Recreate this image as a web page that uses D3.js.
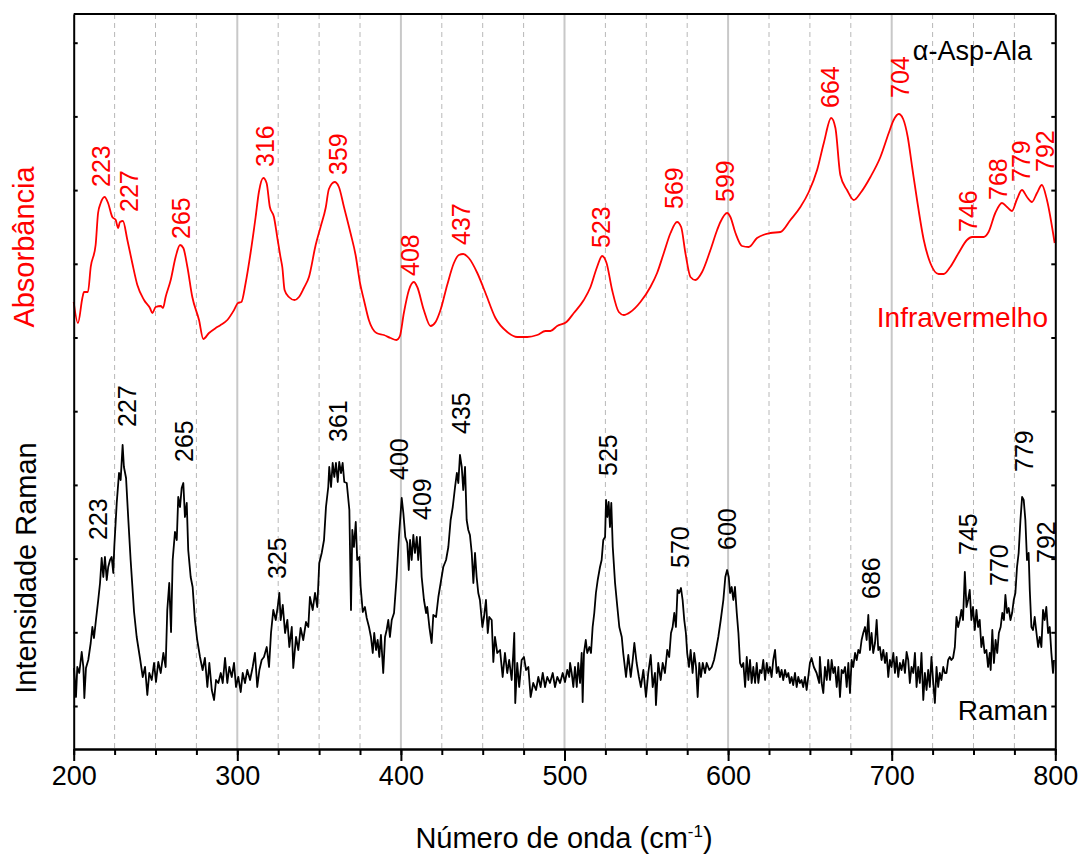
<!DOCTYPE html>
<html>
<head>
<meta charset="utf-8">
<script src="https://cdn.jsdelivr.net/npm/d3@7"></script>
<style>
  body { margin: 0; background: #fff; }
  text { font-family: "Liberation Sans", Arial, sans-serif; }
</style>
</head>
<body>
<div id="graph"></div>
<script>
// infrared spectrum (absorbance, arbitrary units, shifted up)
const irWn = [200,202.6,205.3,206.3,208.7,210.4,213.4,214.9,216.5,218.9,221,223.6,225.7,227.1,228.3,230.1,232.8,235.8,238.9,243,246.6,248.1,250.1,253.2,254.6,256.2,259.3,262.3,265,267,269.5,272.5,276.6,279.2,282.7,286.8,289.8,293.9,298,300.4,302.5,305.1,308.1,311.2,313.2,315.9,317.9,319.9,322.4,324.4,326.5,327.5,328.9,331.5,335,337.7,340.7,343.8,347.9,350.9,354,356,359.5,362.1,365.2,369.2,372.3,375,377.4,380.4,385.1,389.6,393.7,397.3,399.4,401.8,404.9,407.9,410,414,418.1,421.2,424.2,428.3,432.4,435.4,438.1,441.5,446.7,451.7,457.8,465,471.1,477.2,483.3,488.4,491.4,495.5,501.2,505.7,511.8,515.9,519.9,523,525.7,529.1,533.2,536.2,540.3,546.4,552.5,556.6,560.7,564.8,568.8,571.3,573.9,577,580,584.1,589.2,593.3,595.3,599.4,601.4,604.5,608.5,612.6,617.7,625.9,632,638.1,644.2,649.3,654.4,658.5,663,665.6,668.6,672.7,676.8,680.9,687,693.1,698.2,701.2,704.3,707,709.8,712.5,715.5,719.6,723.6,728.7,731.8,735.8,740.9,746,749.1,756.2,759.2,763.3,767.4,770.5,773.5,776.6,779.6,782.7,785.7,788.8,791.8,794.9,799.6];
const irAbs = [447,426,451,457,457,482,504,536,546,552,546,532,529,521,527,528,509,486,464,449,441,436,442,443,441,452,469,492,504,501,482,452,429,410,416,421,424,429,439,446,447,466,496,532,557,571,566,542,532,512,491,482,459,452,449,452,461,472,504,522,541,560,567,562,542,516,494,466,449,429,416,414,411,409,413,436,459,467,462,439,423,427,439,464,486,494,495,491,476,456,431,417,412,412,414,418,418,423,427,436,449,462,482,493,486,459,437,434,437,447,462,476,496,516,527,522,496,472,469,477,499,519,527,536,532,516,503,502,511,516,517,529,542,557,579,606,631,621,574,559,549,556,572,592,616,629,635,630,612,582,549,509,486,475,475,482,496,509,512,512,517,536,546,542,538,550,559,552,547,556,564,549,506];

// raman spectrum (intensity, arbitrary units)
const ramanWn = [200.2,201.4,202.2,203.4,204.9,205.9,206.5,207.5,208.9,210.4,211.4,212.4,213.6,215,216.1,217.1,218.1,219.1,220.2,221.1,222.2,223.2,224.2,224.8,226.3,227.7,228.7,229.9,230.7,232,233.4,234.8,236.9,238.5,240.5,242.2,243.6,245,246.2,247.7,249.1,250.3,251.7,253.2,254.8,256.2,257.2,258.4,259.5,260.5,261.9,263,263.9,265,266,267,268,269.1,270,271.5,272.7,274.1,275.5,277.2,278.8,280.2,281.7,282.9,284.4,285.8,287,288.4,289.9,291.1,292.5,293.9,295.1,296.6,298,299.2,300.6,302.1,303.3,304.7,306.1,307.8,309.4,310.8,312.2,313.5,314.9,316.3,318,319.4,320.6,322,323.5,324.7,325.7,326.5,327.8,329.2,330.6,331.8,333.3,334.2,335.9,337.3,338.7,340.3,342,343.4,344.4,346.1,347.5,348.9,350.1,351.6,353,354.2,355.6,356.2,357.3,358.3,359.3,360.3,361.4,362.3,363.4,364.4,365.4,366.9,368.5,369.5,370.3,371.3,372.4,373.3,374.6,375.4,376.7,378,379.1,380.5,381.7,382.8,383.7,384.8,385.8,386.8,387.8,389.2,390.3,391.3,392.3,393.3,394.4,395.8,397.4,398.8,400.5,401.5,402.7,403.9,404.8,405.6,406.6,407.6,408.6,409.7,410.6,411.7,412.7,414.1,415.4,416.1,417.4,418.8,419.8,421.5,422.9,424.3,425.9,427.6,429,430.4,431.7,433.1,434.2,435.1,436.1,437.2,438.1,439.2,440.2,441.2,442.2,443.3,444.3,445.3,446.3,447.3,448.3,449.8,450.8,452,453.1,454,455.5,456.5,457.5,458.9,460.6,462.2,463.6,465,466.2,467.7,468.7,469.3,469.9,471.1,472.3,473.8,475.2,476.5,477.9,479.3,480.9,482.6,484,485.4,486.7,488.1,489.5,491.1,492.8,494.2,495.6,497.3,498.9,500.3,501.7,502.9,503.4,504.4,505.4,506.4,507.5,508.4,509.5,510.5,511.1,511.9,513,513.9,515.2,516.2,517.2,518.2,519.2,520.3,521.7,522.7,523.7,524.8,525.4,526.2,527,527.8,528.6,529.5,530.9,532.3,533.5,535,535.9,537.6,539,540.5,541.7,542.7,544.1,545.5,546.7,548.2,549.8,551.2,552.7,553.9,555.3,555.9,557.3,558.8,560,561.4,562.8,564,565.1,566.1,567.1,568.1,569.1,570.1,571.2,572.2,573.2,574.2,575,576.1,577.1,578.3,579.3,580.4,581.4,582.4,583.4,584.5,585.9,586.9,588.5,590,591.4,592.6,594,595.5,597.1,598.3,599.4,600.4,601.2,602.2,603.2,604.2,605.3,606.3,607.3,608.3,609.3,610.4,611.4,612.4,613.4,614.4,615.4,616.5,617.5,618.5,619.5,620.5,621.5,622.6,623.6,624.6,625.6,626.6,627.6,628.7,629.7,630.7,631.7,632.7,633.7,634.8,635.8,636.8,637.8,638.8,639.8,640.9,641.9,642.9,643.9,644.9,645.9,647,648,649,650,651,652.4,654.1,655.7,656.1,657.2,658.2,659.2,660.3,661.2,662.3,663.3,664.3,665.3,666.4,667.4,668.4,669.4,670.4,671.5,672.5,673.5,674.5,675.5,676.5,677.6,678.6,679.6,680.6,681.6,682.6,683.7,684.7,685.7,686.7,687.7,688.7,689.8,690.8,691.8,692.8,693.8,694.9,695.9,696.9,697.9,698.9,699.9,701,702,703,704,705,706,707.1,708.1,709.1,710.1,711.1,712.1,713.2,714.2,715.2,716.2,717.2,718.2,719.3,720.3,721.3,722.3,723.3,724.3,725.4,726.4,727.4,728.4,729.4,730.4,731.5,732.5,733.5,734.5,735.5,736.5,737.5,738.6,739.6,740.6,741.6,742.6,743.6,744.7,745.7,746.7,747.7,748.7,749.7,750.8,751.8,752.8,753.8,754.8,755.8,756.8,757.9,758.9,759.9,760.5,761.5,762.5,763.5,764.5,765.5,766.6,767.6,768.6,769.5,770.5,771.5,772.6,773.6,774.6,775.6,776.6,777.6,778.7,779.7,780.7,781.7,782.7,783.7,784.4,785.4,786.4,787.4,788.5,789.5,790.5,791.5,792.5,793.5,794.5,795.6,796.6,797.6,798.6,799.2];
const ramanInt = [81,52,82,76,97,82,51,81,89,106,122,111,129,149,166,191,172,192,169,182,189,192,176,202,246,276,269,304,282,271,229,189,137,112,91,72,82,54,76,69,86,67,87,76,96,82,139,166,117,189,217,209,252,242,261,266,232,246,199,172,162,129,109,92,79,91,62,86,59,49,69,66,76,66,91,66,82,72,86,62,72,57,76,66,79,69,82,96,62,79,89,92,102,82,116,139,129,142,156,129,144,116,129,102,122,81,112,99,121,109,127,122,152,139,156,142,186,196,209,242,262,282,262,286,272,286,267,287,276,286,267,266,239,139,219,202,227,189,192,162,137,142,131,122,112,96,116,99,109,92,114,76,112,119,129,112,129,136,172,212,251,236,212,206,179,209,189,214,196,212,189,212,172,149,136,142,122,106,134,132,152,166,182,189,202,229,242,262,276,266,294,282,259,282,229,219,214,196,166,196,172,156,149,122,132,149,116,132,129,87,112,96,99,72,96,76,89,69,96,116,46,86,62,89,92,79,82,52,66,59,72,62,76,62,72,66,76,62,72,66,76,67,79,72,86,76,62,82,62,86,66,96,47,96,109,96,102,96,122,136,156,169,182,189,209,212,249,232,247,222,246,202,166,142,122,112,96,72,94,72,89,106,86,72,62,79,52,76,94,62,76,44,86,69,86,76,99,92,116,122,136,122,159,156,161,149,129,116,96,82,99,76,96,82,52,86,72,86,76,86,79,82,89,99,112,129,149,172,179,172,156,162,149,162,136,116,86,82,86,62,92,69,89,66,82,66,86,66,79,76,89,69,86,76,82,72,89,99,76,82,72,79,69,79,72,76,66,72,64,76,62,72,66,69,62,72,59,72,86,91,82,76,66,92,66,56,82,69,89,69,89,76,82,62,82,52,79,76,82,62,86,56,89,82,96,89,99,96,109,116,122,109,134,99,116,96,106,129,99,102,89,99,86,96,72,89,82,96,76,92,72,86,79,89,76,97,89,66,82,76,96,62,82,66,96,49,76,59,79,62,92,66,46,82,62,76,69,82,76,76,89,92,89,91,102,132,122,129,139,129,177,142,149,159,129,142,119,139,122,129,102,112,96,99,82,96,79,119,86,109,96,116,122,136,129,154,136,141,129,136,149,156,182,196,229,252,249,229,189,196,159,122,119,132,116,102,112,102,139,129,142,116,122,96,76,89];

// peak annotations: text, anchor wavenumber, anchor level
const irPeaks = ["223","227","265","316","359","408","437","523","569","599","664","704","746","768","779","792"];
const irPeakWn = [222.2,239.3,271.1,322.4,367,411,442.2,527.8,572.4,603.6,667.8,710.6,752.2,770.5,784.5,799.1];
const irPeakLevel = [562,537,510,582,574,473,504,501,540,547,641,651,517,549,567,577];

const ramanPeaks = ["223","227","265","325","361","400","409","435","525","570","600","686","745","770","779","792"];
const ramanPeakWn = [220.4,238.1,272.9,329.8,367,404.3,418.4,442.2,532,576,604.8,692.8,752.2,771.1,786.4,799.8];
const ramanPeakLevel = [209,322,287,170,307,269,229,315,273,181,199,150,194,163,277,186];

const xMajor = [200, 300, 400, 500, 600, 700, 800];
const xMinor = d3.range(200, 801, 25);
const yTicks = [43, 116.7, 190.4, 264.1, 337.8, 411.5, 485.2, 558.9, 632.6, 706.3];

function graph() {
  let w = 1082;
  let h = 856;
  let left = 73.7, right = 1055.3, top = 14, bottom = 749;

  const svg = d3.select("#graph")
                .append("svg")
                .attr("width", w)
                .attr("height", h);

  const xScale = d3.scaleLinear()
                   .domain([200, 800])
                   .range([left, right]);

  const yScale = d3.scaleLinear()
                   .domain([0, 735])
                   .range([bottom, top]);

  // grid lines
  svg.append("g")
     .selectAll("line")
     .data(xMinor.filter(v => v > 200 && v < 800))
     .join("line")
     .attr("x1", d => xScale(d))
     .attr("x2", d => xScale(d))
     .attr("y1", top)
     .attr("y2", bottom)
     .attr("stroke", d => d % 100 === 0 ? "#c8c8c8" : "#b8b8b8")
     .attr("stroke-width", d => d % 100 === 0 ? 2 : 1)
     .attr("stroke-dasharray", d => d % 100 === 0 ? null : "5,4");

  const line = d3.line()
                 .x(d => xScale(d[0]))
                 .y(d => yScale(d[1]));

  svg.append("path")
     .datum(irWn.map((v, i) => [v, irAbs[i]]))
     .attr("fill", "none")
     .attr("stroke", "#ff0000")
     .attr("stroke-width", 1.8)
     .attr("stroke-linejoin", "round")
     .attr("d", line.curve(d3.curveMonotoneX));

  svg.append("path")
     .datum(ramanWn.map((v, i) => [v, ramanInt[i]]))
     .attr("fill", "none")
     .attr("stroke", "#000")
     .attr("stroke-width", 1.8)
     .attr("stroke-linejoin", "round")
     .attr("d", line.curve(d3.curveLinear));

  // axes
  const xAxis = d3.axisBottom(xScale)
                  .tickValues(xMajor)
                  .tickSize(12)
                  .tickSizeOuter(0)
                  .tickPadding(5)
                  .tickFormat(d => d);

  const xAxisMinor = d3.axisBottom(xScale)
                       .tickValues(xMinor)
                       .tickSize(6)
                       .tickSizeOuter(0)
                       .tickFormat("");

  svg.append("g")
     .attr("transform", `translate(0, ${bottom})`)
     .call(xAxisMinor);

  const gx = svg.append("g")
     .attr("id", "x-axis")
     .attr("transform", `translate(0, ${bottom})`)
     .call(xAxis);
  gx.selectAll("text")
    .style("font-size", "27px")
    .attr("fill", "#000");

  svg.append("g")
     .attr("transform", `translate(${left}, 0)`)
     .call(d3.axisLeft(yScale).tickValues(yTicks).tickSize(-4).tickSizeOuter(0).tickFormat(""));

  svg.append("g")
     .attr("transform", `translate(${right}, 0)`)
     .call(d3.axisRight(yScale).tickValues(yTicks).tickSize(-4).tickSizeOuter(0).tickFormat(""));

  svg.selectAll(".domain, .tick line")
     .attr("stroke", "#000")
     .attr("stroke-width", 2);

  svg.append("line")
     .attr("x1", left).attr("x2", right)
     .attr("y1", top).attr("y2", top)
     .attr("stroke", "#000")
     .attr("stroke-width", 2);

  // peak labels
  svg.append("g")
     .selectAll("text")
     .data(irPeaks)
     .join("text")
     .attr("transform", (d, i) => `translate(${xScale(irPeakWn[i])}, ${yScale(irPeakLevel[i])}) rotate(-90)`)
     .attr("fill", "#ff0000")
     .style("font-size", "25px")
     .text(d => d);

  svg.append("g")
     .selectAll("text")
     .data(ramanPeaks)
     .join("text")
     .attr("transform", (d, i) => `translate(${xScale(ramanPeakWn[i])}, ${yScale(ramanPeakLevel[i])}) rotate(-90)`)
     .attr("fill", "#000")
     .style("font-size", "25px")
     .text(d => d);

  // titles and legends
  svg.append("text")
     .attr("x", 1032)
     .attr("y", 60)
     .attr("text-anchor", "end")
     .style("font-size", "27px")
     .text("α-Asp-Ala");

  svg.append("text")
     .attr("x", 1048)
     .attr("y", 327)
     .attr("text-anchor", "end")
     .attr("fill", "#ff0000")
     .style("font-size", "28px")
     .text("Infravermelho");

  svg.append("text")
     .attr("x", 1048)
     .attr("y", 720)
     .attr("text-anchor", "end")
     .style("font-size", "28px")
     .text("Raman");

  svg.append("text")
     .attr("transform", "translate(34, 247) rotate(-90)")
     .attr("text-anchor", "middle")
     .attr("fill", "#ff0000")
     .style("font-size", "29px")
     .text("Absorbância");

  svg.append("text")
     .attr("transform", "translate(36, 568) rotate(-90)")
     .attr("text-anchor", "middle")
     .style("font-size", "29px")
     .text("Intensidade Raman");

  const xt = svg.append("text")
     .attr("x", 564)
     .attr("y", 848)
     .attr("text-anchor", "middle")
     .style("font-size", "29px");
  xt.append("tspan").text("Número de onda (cm");
  xt.append("tspan").attr("dy", -11).style("font-size", "17px").text("-1");
  xt.append("tspan").attr("dy", 11).text(")");
}

graph();
</script>
</body>
</html>
